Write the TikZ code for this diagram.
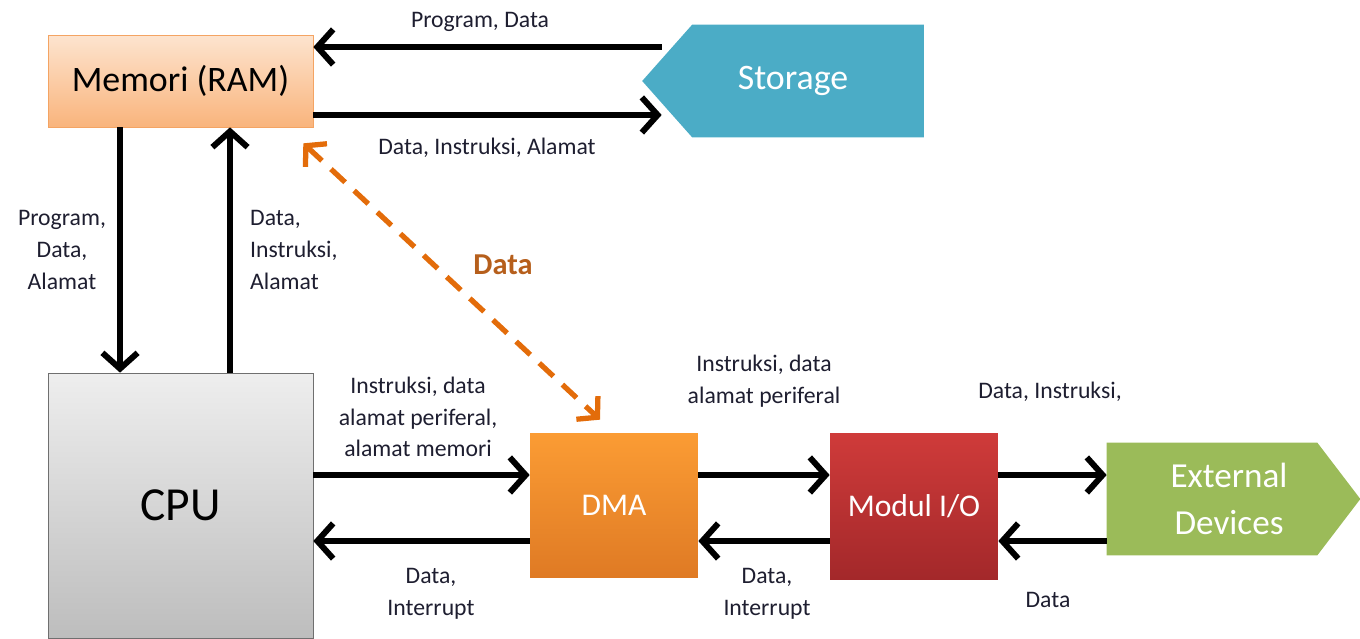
\documentclass[tikz,border=0pt]{standalone}
\usepackage{fontspec}
\setmainfont{Carlito}
\usetikzlibrary{positioning,arrows.meta,backgrounds}

\definecolor{memtop}{HTML}{FDE4CF}
\definecolor{membot}{HTML}{F9B47C}
\definecolor{memline}{HTML}{F4A463}
\definecolor{cputop}{HTML}{EEEEEE}
\definecolor{cpubot}{HTML}{BDBDBD}
\definecolor{cpuline}{HTML}{6F6F6F}
\definecolor{dmatop}{HTML}{FB9C34}
\definecolor{dmabot}{HTML}{DF7A24}
\definecolor{iotop}{HTML}{CF3B3A}
\definecolor{iobot}{HTML}{A3282A}
\definecolor{stocol}{HTML}{4BACC6}
\definecolor{extcol}{HTML}{9BBB59}
\definecolor{lblcol}{HTML}{1E1E30}
\definecolor{dashcol}{HTML}{E36C0A}
\definecolor{datacol}{HTML}{B65F1C}

\begin{document}
\begin{tikzpicture}[x=0.02cm, y=-0.02cm,
    box/.style={rectangle, inner sep=0pt},
    lbl/.style={align=center, text=lblcol, font=\fontsize{13.5}{18}\selectfont},
    arr/.style={-{Straight Barb[length=9pt,width=20pt]}, line width=3.4pt},
    dasharr/.style={{Straight Barb[length=8pt,width=18pt]}-{Straight Barb[length=8pt,width=18pt]},
        line width=3pt, draw=dashcol, dash pattern=on 11pt off 7pt}]
    \useasboundingbox (0,0) rectangle (1360,639);

    % blocks
    \node[box, minimum width=5.3cm, minimum height=1.84cm, draw=memline,
        top color=memtop, bottom color=membot,
        font=\fontsize{20.4}{24}\selectfont] (mem) at (180.5,81) {Memori (RAM)};
    \node[box, minimum width=5.62cm, minimum height=2.24cm, text=white,
        font=\fontsize{20.4}{24}\selectfont] (sto) at (793,81) {Storage};
    \node[box, minimum width=5.3cm, minimum height=5.3cm, draw=cpuline,
        top color=cputop, bottom color=cpubot,
        font=\fontsize{27}{30}\selectfont] (cpu) at (180.5,505.5) {CPU};
    \node[box, minimum width=3.36cm, minimum height=2.9cm, text=white,
        top color=dmatop, bottom color=dmabot,
        font=\fontsize{18}{22}\selectfont] (dma) at (614,505.5) {DMA};
    \node[box, minimum width=3.36cm, minimum height=2.94cm, text=white,
        top color=iotop, bottom color=iobot,
        font=\fontsize{18}{22}\selectfont] (io) at (914,506.5) {Modul I/O};
    \node[box, minimum width=5.06cm, minimum height=2.24cm, text=white, align=center,
        font=\fontsize{20}{26.6}\selectfont] (ext) at (1229,499) {External\\Devices};

    \begin{scope}[on background layer]
        \fill[stocol] ([xshift=-2mm]sto.north east) -- ([xshift=8mm]sto.north west)
            -- ([xshift=-2mm]sto.west) -- ([xshift=8mm]sto.south west)
            -- ([xshift=-2mm]sto.south east) -- cycle;
        \fill[extcol] ([xshift=0.9mm]ext.north west) -- ([xshift=-7.7mm]ext.north east)
            -- ([xshift=0.9mm]ext.east) -- ([xshift=-7.7mm]ext.south east)
            -- ([xshift=0.9mm]ext.south west) -- cycle;
    \end{scope}

    % connectors
    \coordinate (memup) at ([yshift=0.68cm]mem.east);
    \coordinate (memdn) at ([yshift=-0.68cm]mem.east);
    \coordinate (stoin) at ([xshift=1.9mm]sto.west);
    \draw[arr] (stoin |- memup) -- (memup);
    \draw[arr] (memdn) -- (stoin |- memdn);

    \draw[arr] ([xshift=-1.21cm]mem.south) -- ([xshift=-1.21cm]cpu.north);
    \draw[arr] ([xshift=0.99cm]cpu.north) -- ([xshift=0.99cm]mem.south);

    \coordinate (dmaup) at ([yshift=0.61cm]dma.west);
    \coordinate (dmadn) at ([yshift=-0.71cm]dma.west);
    \coordinate (extin) at ([xshift=0.9mm]ext.west);
    \draw[arr] (cpu.east |- dmaup) -- (dmaup);
    \draw[arr] (dmadn) -- (cpu.east |- dmadn);
    \draw[arr] (dma.east |- dmaup) -- (io.west |- dmaup);
    \draw[arr] (io.west |- dmadn) -- (dma.east |- dmadn);
    \draw[arr] (io.east |- dmaup) -- (extin |- dmaup);
    \draw[arr] (extin |- dmadn) -- (io.east |- dmadn);

    \draw[dasharr] ([xshift=-0.2cm,yshift=-0.32cm]mem.south east)
        -- ([xshift=-0.28cm,yshift=0.26cm]dma.north);

    % labels
    \node[lbl] (l1) at (480,22) {Program, Data};
    \node[lbl] (l2) at (487,148) {Data, Instruksi, Alamat};
    \node[lbl] (l3) at (62,250) {Program,\\Data,\\Alamat};
    \node[lbl, align=left, anchor=west] (l4) at (244,250) {Data,\\Instruksi,\\Alamat};
    \node[lbl] (l5) at (418,417) {Instruksi, data\\alamat periferal,\\alamat memori};
    \node[lbl] (l6) at (431,594) {Data,\\Interrupt};
    \node[lbl] (l7) at (764,381) {Instruksi, data\\alamat periferal};
    \node[lbl] (l8) at (767,594) {Data,\\Interrupt};
    \node[lbl] (l9) at (1050,392) {Data, Instruksi,};
    \node[lbl] (l10) at (1048,600) {Data};
    \node[text=datacol, font=\bfseries\fontsize{17.3}{20}\selectfont] (l11) at (503,265) {Data};
\end{tikzpicture}
\end{document}
